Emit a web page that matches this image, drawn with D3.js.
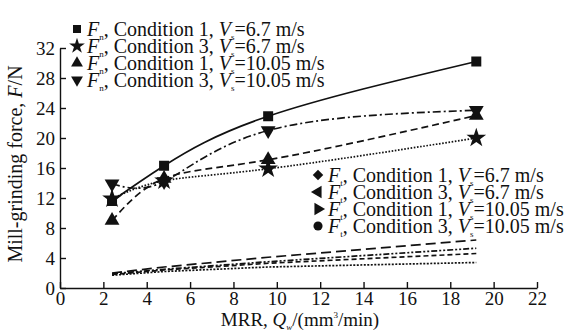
<!DOCTYPE html>
<head>
<meta charset="utf-8">
<style>
    body { margin: 0; background: #fff; }
    text { font-family: "Liberation Serif", "Times New Roman", serif; fill: #111; }
    .axis path, .axis line { stroke: #111; stroke-width: 1.4px; }
    .axis text { font-size: 19px; }
    .series { fill: none; stroke: #111; stroke-width: 1.7px; }
</style>
<title>Mill-grinding force</title>
</head>
<body>
<script src="https://d3js.org/d3.v7.min.js"></script>
<script>
    // MRR values (mm^3/min)
    const mrr = [2.4, 4.8, 9.6, 19.2];

    // normal force Fn (N)
    const fnCond1V67 = [11.6, 16.3, 22.9, 30.2];
    const fnCond3V67 = [11.9, 14.3, 15.9, 20.0];
    const fnCond1V1005 = [9.0, 14.6, 17.1, 23.0];
    const fnCond3V1005 = [13.9, 14.2, 21.0, 23.7];

    // tangential force Ft (N)
    const ftCond1V67 = [1.9, 2.5, 3.5, 5.3];
    const ftCond3V67 = [1.7, 2.2, 2.8, 3.4];
    const ftCond1V1005 = [2.0, 2.8, 4.1, 6.4];
    const ftCond3V1005 = [1.8, 2.4, 3.3, 4.6];

    const xTicks = [0, 2, 4, 6, 8, 10, 12, 14, 16, 18, 20, 22];
    const yTicks = [0, 4, 8, 12, 16, 20, 24, 28, 32];

    const legendFn = [
        {force: 'n', cond: 1, vs: '6.7'},
        {force: 'n', cond: 3, vs: '6.7'},
        {force: 'n', cond: 1, vs: '10.05'},
        {force: 'n', cond: 3, vs: '10.05'}
    ];
    const legendFt = [
        {force: 't', cond: 1, vs: '6.7'},
        {force: 't', cond: 3, vs: '6.7'},
        {force: 't', cond: 1, vs: '10.05'},
        {force: 't', cond: 3, vs: '10.05'}
    ];

    const width = 570, height = 333;

    const x = d3.scaleLinear().domain([0, 22]).range([60, 537]);
    const y = d3.scaleLinear().domain([0, 32]).range([288, 48]);

    const svg = d3.select('body').append('svg')
        .attr('width', width)
        .attr('height', height);

    // marker shapes
    const sym = (type, size) => d3.symbol().type(type).size(size)();
    const markers = {
        square: {d: sym(d3.symbolSquare, 100), rot: 0},
        star: {d: sym(d3.symbolStar, 120), rot: 0},
        up: {d: sym(d3.symbolTriangle, 95), rot: 0},
        down: {d: sym(d3.symbolTriangle, 95), rot: 180},
        diamond: {d: sym(d3.symbolSquare, 55), rot: 45},
        left: {d: sym(d3.symbolTriangle, 65), rot: -90},
        right: {d: sym(d3.symbolTriangle, 65), rot: 90},
        circle: {d: sym(d3.symbolCircle, 65), rot: 0}
    };

    const fnSeries = [
        {values: fnCond1V67, dash: null, marker: 'square'},
        {values: fnCond3V67, dash: '1.6,1.6', marker: 'star'},
        {values: fnCond1V1005, dash: '7,4', marker: 'up'},
        {values: fnCond3V1005, dash: '8,3,2,3', marker: 'down'}
    ];
    const ftSeries = [
        {values: ftCond1V67, dash: '6,2,2,2,2,2'},
        {values: ftCond3V67, dash: '2,1.5'},
        {values: ftCond1V1005, dash: '10,5'},
        {values: ftCond3V1005, dash: '5,3'}
    ];

    const line = d3.line()
        .x((d, i) => x(mrr[i]))
        .y(d => y(d));

    // axes
    svg.append('g')
        .attr('class', 'axis')
        .attr('transform', `translate(0,${y(0)})`)
        .call(d3.axisBottom(x).tickValues(xTicks).tickSizeInner(-6).tickSizeOuter(0).tickPadding(4));

    svg.append('g')
        .attr('class', 'axis')
        .attr('transform', `translate(${x(0)},0)`)
        .call(d3.axisLeft(y).tickValues(yTicks).tickSizeInner(-6).tickSizeOuter(0).tickPadding(5));

    // Ft lines
    ftSeries.forEach(s => {
        svg.append('path')
            .datum(s.values)
            .attr('class', 'series')
            .attr('stroke-dasharray', s.dash)
            .attr('d', line.curve(d3.curveLinear));
    });

    // Fn lines + markers
    fnSeries.forEach(s => {
        svg.append('path')
            .datum(s.values)
            .attr('class', 'series')
            .attr('stroke-dasharray', s.dash)
            .attr('d', line.curve(d3.curveNatural));
    });
    fnSeries.forEach(s => {
        const m = markers[s.marker];
        svg.selectAll(null)
            .data(s.values)
            .enter().append('path')
            .attr('d', m.d)
            .attr('fill', '#111')
            .attr('transform', (d, i) => `translate(${x(mrr[i])},${y(d)}) rotate(${m.rot})`);
    });

    // legend text with italic symbol + subscript
    function legendLabel(g, item) {
        const t = g.append('text').attr('font-size', 20).attr('dy', '0.35em');
        t.append('tspan').attr('font-style', 'italic').text('F');
        t.append('tspan').attr('font-size', 9).attr('dy', 4).text(item.force);
        t.append('tspan').attr('dy', -4).text(`, Condition ${item.cond}, `);
        t.append('tspan').attr('font-style', 'italic').text('V');
        t.append('tspan').attr('font-size', 9).attr('dy', 4).text('s');
        t.append('tspan').attr('dy', -4).text(`=${item.vs} m/s`);
    }

    const fnMarks = ['square', 'star', 'up', 'down'];
    const ftMarks = ['diamond', 'left', 'right', 'circle'];

    legendFn.forEach((item, i) => {
        const g = svg.append('g').attr('transform', `translate(77,${29 + i * 17})`);
        const m = markers[fnMarks[i]];
        g.append('path').attr('d', m.d).attr('fill', '#111')
            .attr('transform', `rotate(${m.rot}) scale(0.8)`);
        legendLabel(g.append('g').attr('transform', 'translate(10,0)'), item);
    });

    legendFt.forEach((item, i) => {
        const g = svg.append('g').attr('transform', `translate(318,${175 + i * 17})`);
        const m = markers[ftMarks[i]];
        g.append('path').attr('d', m.d).attr('fill', '#111')
            .attr('transform', `rotate(${m.rot})`);
        legendLabel(g.append('g').attr('transform', 'translate(10,0)'), item);
    });

    // axis titles
    const yt = svg.append('text')
        .attr('transform', `translate(22,164) rotate(-90)`)
        .attr('text-anchor', 'middle')
        .attr('font-size', 20);
    yt.append('tspan').text('Mill-grinding force, ');
    yt.append('tspan').attr('font-style', 'italic').text('F');
    yt.append('tspan').text('/N');

    const xt = svg.append('text')
        .attr('x', 300)
        .attr('y', 326)
        .attr('text-anchor', 'middle')
        .attr('font-size', 19);
    xt.append('tspan').text('MRR, ');
    xt.append('tspan').attr('font-style', 'italic').text('Q');
    xt.append('tspan').attr('font-size', 9).attr('dy', 4).attr('font-style', 'italic').text('w');
    xt.append('tspan').attr('dy', -4).text('/(mm');
    xt.append('tspan').attr('font-size', 9).attr('dy', -8).text('3');
    xt.append('tspan').attr('dy', 8).text('/min)');
</script>
</body>
